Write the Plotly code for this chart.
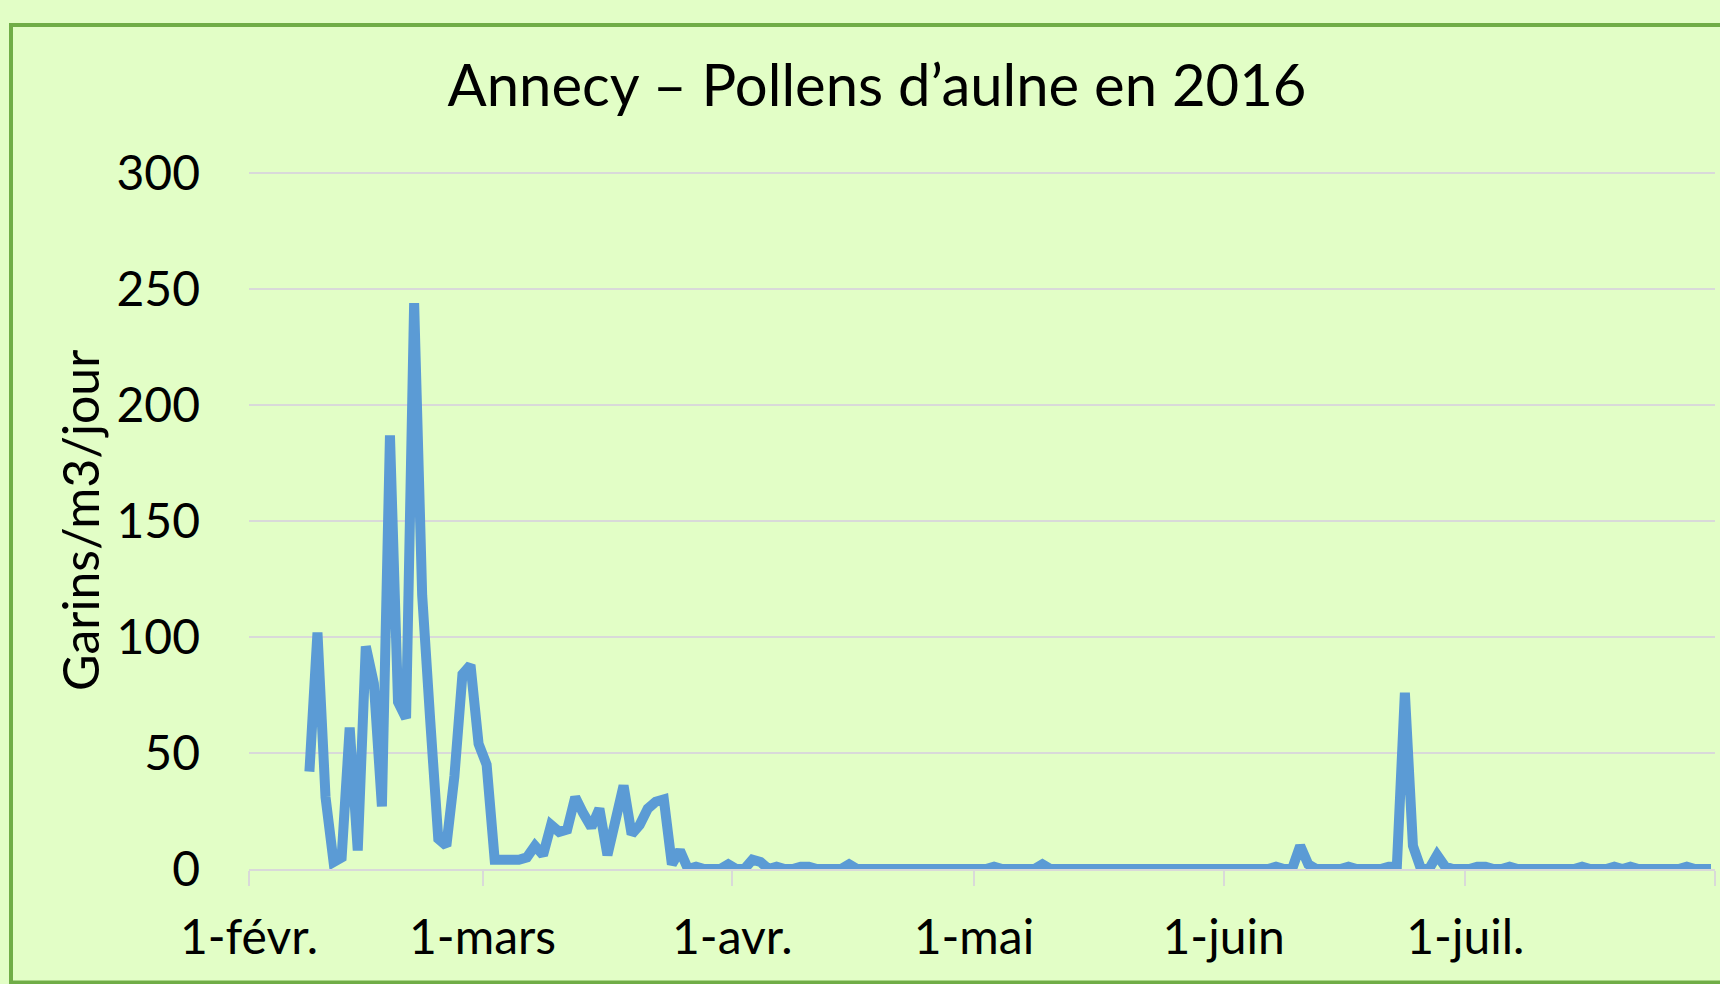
import pandas as pd
import plotly.graph_objects as go

# ---- data ----
start_date = "2016-02-01 12:00"
n_days = 182
pollen_values = (
    [None] * 7
    + [42, 102, 31, 3, 5, 61, 8, 96, 80, 27, 187, 72, 65, 244, 118, 64, 13, 10, 40, 84, 88,
       54, 45, 4, 4, 4, 4, 5, 10, 6, 19, 16, 17, 31, 24, 18, 26, 6, 21, 36, 15, 19, 26, 29, 30,
       2, 8, 0, 1, 0, 0, 0, 2, 0, 0, 4, 3, 0, 1, 0, 0, 1, 1, 0, 0, 0, 0, 2]
    + [0] * 17
    + [1, 0, 0, 0, 0, 0, 2]
    + [0] * 28
    + [1, 0, 0, 10, 2, 0, 0, 0, 0, 1, 0, 0, 0, 0, 1, 1, 76, 10, 0, 0, 6, 1, 0, 0, 0,
       1, 1, 0, 0, 1, 0, 0, 0, 0, 0, 0, 0, 0, 1, 0, 0, 0, 1, 0, 1, 0, 0, 0, 0, 0, 0, 1, 0, 0, 0]
)
pollen_values = (pollen_values + [0] * n_days)[:n_days]
dates = pd.date_range(start_date, periods=n_days, freq="D")

tick_dates = ["2016-02-01", "2016-03-01", "2016-04-01", "2016-05-01", "2016-06-01", "2016-07-01", "2016-08-01"]
tick_labels = ["1-févr.", "1-mars", "1-avr.", "1-mai", "1-juin", "1-juil.", ""]
y_ticks = [0, 50, 100, 150, 200, 250, 300]

title_text = "Annecy – Pollens d’aulne en 2016"
y_title = "Garins/m3/jour"

BG = "#E2FEC6"
FONT = "Lato"

fig = go.Figure()
fig.add_trace(go.Scatter(
    x=dates, y=pollen_values, mode="lines",
    line=dict(color="#5B9BD5", width=10, simplify=False),
    connectgaps=False, hoverinfo="skip", showlegend=False,
))

W, H = 1720, 984
L, R, T, B = 249, 5, 171, 115
pw, ph = W - L - R, H - T - B

fig.update_layout(
    width=W, height=H,
    margin=dict(l=L, r=R, t=T, b=B, pad=0),
    paper_bgcolor=BG, plot_bgcolor=BG,
    font=dict(family=FONT, color="#000000"),
    title=dict(text=title_text, x=877 / W, xanchor="center", y=1 - 86 / H, yanchor="middle",
               font=dict(family=FONT, size=58, color="#000000")),
    xaxis=dict(
        type="date", range=["2016-02-01", "2016-08-01"],
        tickmode="array", tickvals=tick_dates, ticktext=tick_labels,
        showgrid=False, zeroline=False,
        showline=True, linecolor="#D9D9D9", linewidth=2,
        ticks="outside", ticklen=15, tickwidth=2, tickcolor="#D9D9D9",
        tickfont=dict(family=FONT, size=48, color="#000000"),
        ticklabelstandoff=10,
    ),
    yaxis=dict(
        range=[0, 301], tickmode="array", tickvals=y_ticks,
        showgrid=True, gridcolor="#D9D9D9", gridwidth=2,
        zeroline=False, showline=False, ticks="",
        tickfont=dict(family=FONT, size=48, color="#000000"),
        ticklabelstandoff=48,
    ),
    annotations=[dict(
        text=y_title, textangle=-90, xref="paper", yref="paper",
        x=(80 - L) / pw, y=(H - B - 521) / ph, xanchor="center", yanchor="middle",
        showarrow=False, font=dict(family=FONT, size=50, color="#000000"),
    )],
    shapes=[dict(
        type="rect", xref="paper", yref="paper",
        x0=(11 - L) / pw, x1=(W + 10 - L) / pw,
        y0=(H - B - 982.5) / ph, y1=(H - B - 25) / ph,
        line=dict(color="#70AD47", width=4), fillcolor="rgba(0,0,0,0)", layer="below",
    )],
)

fig.write_html(
    "out.html",
    config={"displayModeBar": False},
    post_script="document.body.style.margin='0';document.body.style.overflow='hidden';",
)
